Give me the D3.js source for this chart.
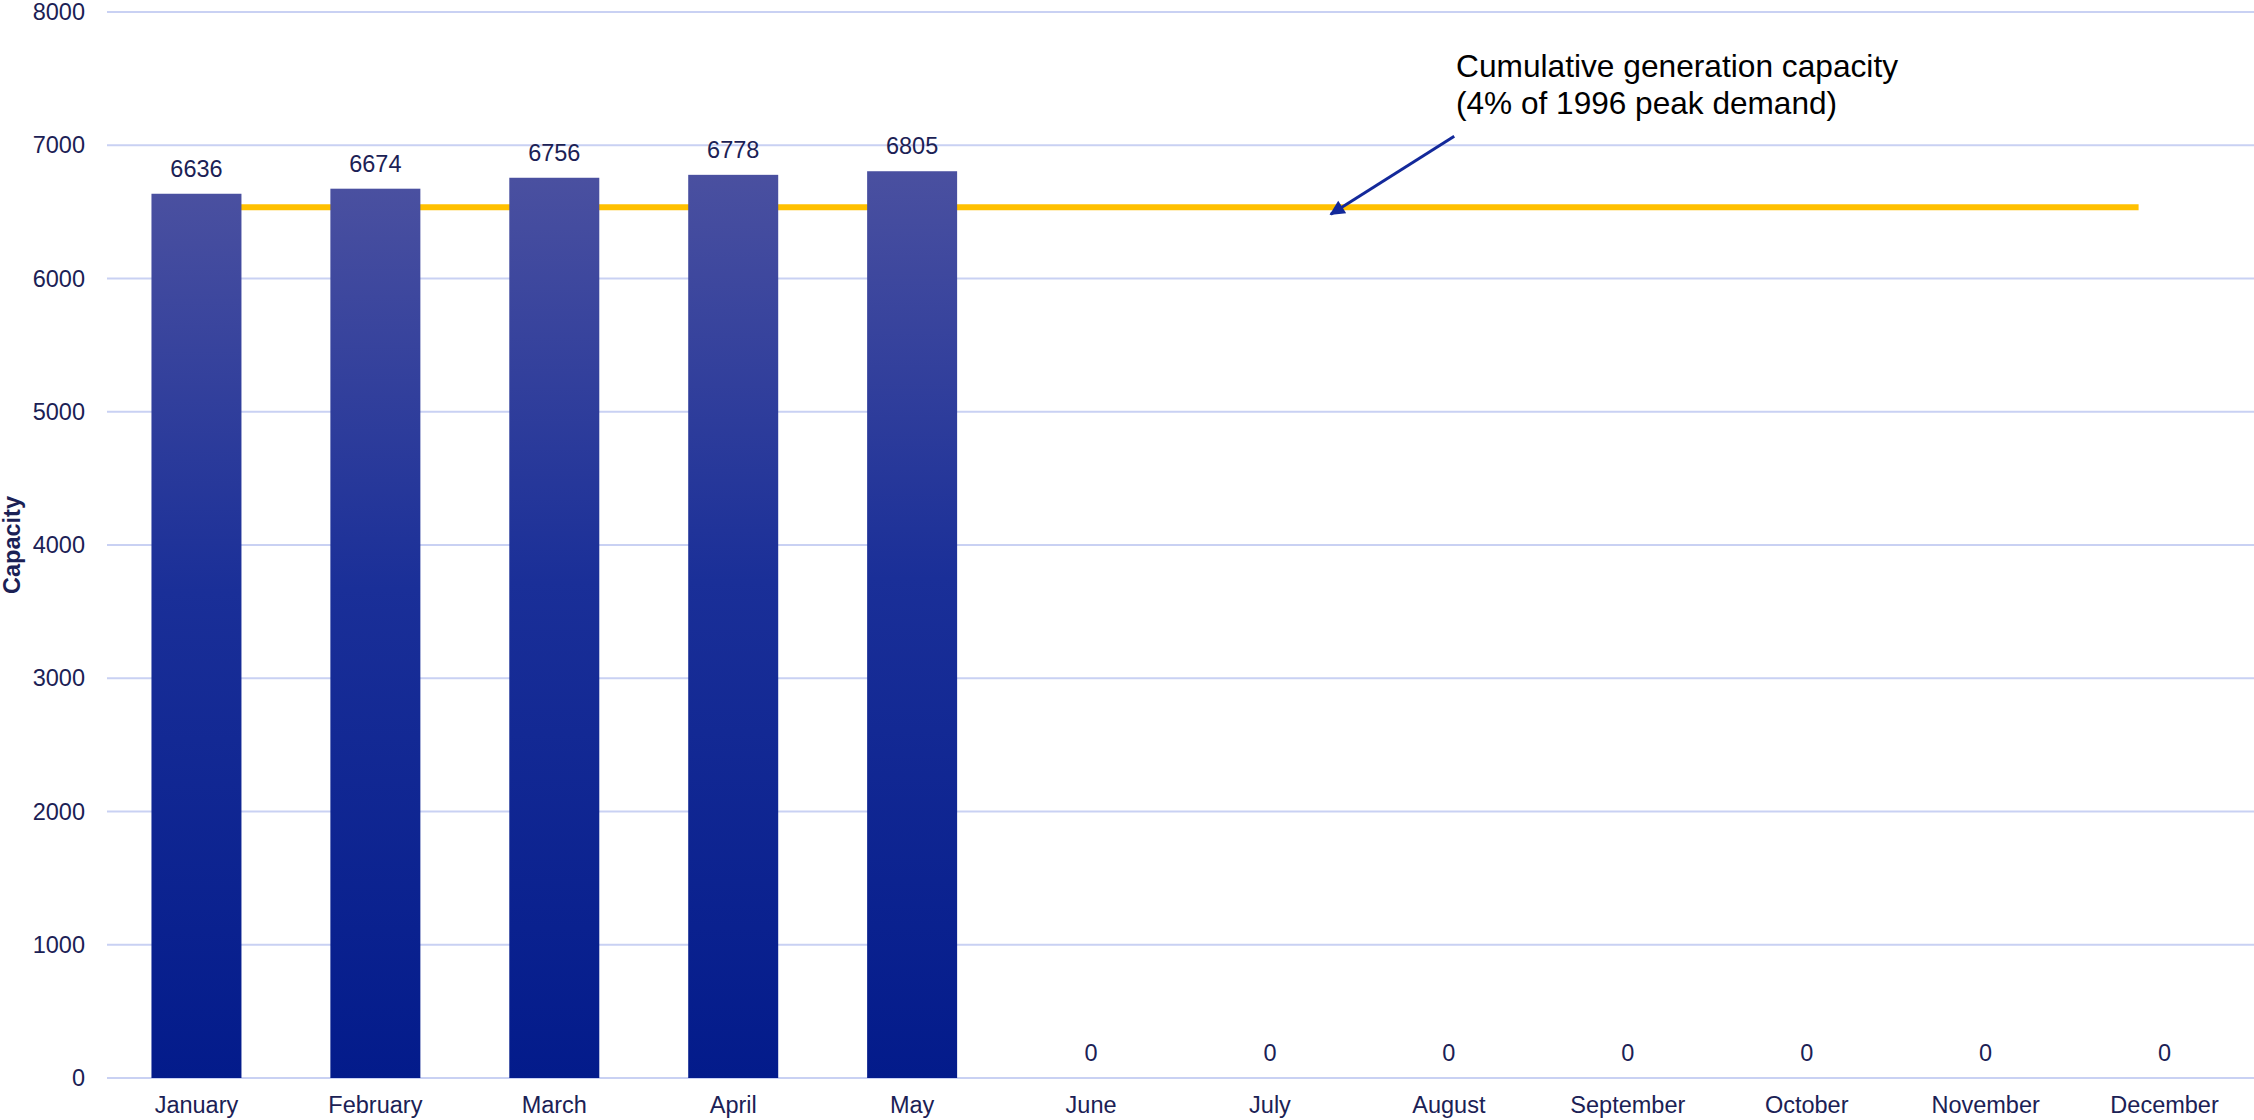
<!DOCTYPE html>
<html>
<head>
<meta charset="utf-8">
<script src="https://cdn.jsdelivr.net/npm/d3@7"></script>
<style>
  html, body { margin: 0; padding: 0; background: #ffffff; }
  svg { display: block; }
  text { font-family: "Liberation Sans", Arial, sans-serif; }
</style>
</head>
<body>
<svg id="chart" width="2254" height="1120"></svg>
<script>
// ---- Data ----
const months = ["January","February","March","April","May","June","July","August","September","October","November","December"];
const capacity = [6636, 6674, 6756, 6778, 6805, 0, 0, 0, 0, 0, 0, 0];
const yTicks = [0, 1000, 2000, 3000, 4000, 5000, 6000, 7000, 8000];
const targetValue = 6535;
const targetStart = "January";
const targetEnd = "December";
const annotationLines = ["Cumulative generation capacity", "(4% of 1996 peak demand)"];
const yTitle = "Capacity";

// ---- Layout ----
const W = 2254, H = 1120;
const margin = { top: 12, right: 0, bottom: 42, left: 107 };
const svg = d3.select("#chart");
const innerW = W - margin.left - margin.right;
const innerH = H - margin.top - margin.bottom;
const g = svg.append("g").attr("transform", `translate(${margin.left},${margin.top})`);

const x = d3.scaleBand().domain(months).range([0, innerW]).paddingInner(0.497).paddingOuter(0.2485);
const y = d3.scaleLinear().domain([0, 8000]).range([innerH, 0]);

const navy = "#1b2155";

// gradient
const defs = svg.append("defs");
const grad = defs.append("linearGradient").attr("id", "barGrad")
  .attr("x1", 0).attr("y1", 0).attr("x2", 0).attr("y2", 1);
grad.append("stop").attr("offset", "0%").attr("stop-color", "#4a50a0");
grad.append("stop").attr("offset", "45%").attr("stop-color", "#1a2f98");
grad.append("stop").attr("offset", "100%").attr("stop-color", "#031b8b");

const arrowMarker = defs.append("marker").attr("id", "arrowHead")
  .attr("viewBox", "0 0 10 10").attr("refX", 9).attr("refY", 5)
  .attr("markerWidth", 6).attr("markerHeight", 5).attr("orient", "auto")
  .attr("markerUnits", "strokeWidth");
arrowMarker.append("path").attr("d", "M0,0 L10,5 L0,10 Z").attr("fill", "#13299a");

// gridlines
g.append("g").selectAll("line").data(yTicks).join("line")
  .attr("x1", 0).attr("x2", innerW)
  .attr("y1", d => y(d)).attr("y2", d => y(d))
  .attr("stroke", "#c9d1f3").attr("stroke-width", 2);

// y axis labels
const yAxis = d3.axisLeft(y).tickValues(yTicks).tickSize(0).tickPadding(22).tickFormat(d3.format("d"));
const yg = g.append("g").call(yAxis);
yg.select(".domain").remove();
yg.selectAll("text").attr("fill", navy).style("font-size", "23.5px")
  .style("font-family", '"Liberation Sans", Arial, sans-serif');

// x axis labels
const xAxis = d3.axisBottom(x).tickSize(0).tickPadding(18);
const xg = g.append("g").attr("transform", `translate(0,${innerH})`).call(xAxis);
xg.select(".domain").remove();
xg.selectAll("text").attr("fill", navy).style("font-size", "23.5px")
  .style("font-family", '"Liberation Sans", Arial, sans-serif');

// target line (behind bars)
const step = x.step();
const lineX1 = x(targetStart) + x.bandwidth() / 2;
const lineX2 = x(targetEnd) + x.bandwidth() / 2 - 0.145 * step;
g.append("line")
  .attr("x1", lineX1).attr("x2", lineX2)
  .attr("y1", y(targetValue)).attr("y2", y(targetValue))
  .attr("stroke", "#ffc000").attr("stroke-width", 6);

// bars
g.append("g").selectAll("rect").data(months.map((m, i) => ({ m, v: capacity[i] }))).join("rect")
  .attr("x", d => x(d.m)).attr("width", x.bandwidth())
  .attr("y", d => y(d.v)).attr("height", d => innerH - y(d.v))
  .attr("fill", "url(#barGrad)");

// value labels
g.append("g").selectAll("text").data(months.map((m, i) => ({ m, v: capacity[i] }))).join("text")
  .attr("x", d => x(d.m) + x.bandwidth() / 2)
  .attr("y", d => y(d.v) - 17)
  .attr("text-anchor", "middle")
  .attr("fill", navy).style("font-size", "23.5px")
  .text(d => d.v);

// y title
svg.append("text")
  .attr("transform", `translate(20,${margin.top + innerH / 2}) rotate(-90)`)
  .attr("text-anchor", "middle")
  .attr("fill", navy).style("font-size", "23.5px").style("font-weight", "bold")
  .text(yTitle);

// annotation
const annX = x("August") + x.bandwidth() / 2 + 0.04 * step;
const ann = svg.append("text").attr("fill", "#000").style("font-size", "30.5px");
ann.append("tspan").attr("x", margin.left + annX).attr("y", 77)
  .attr("textLength", 442).attr("lengthAdjust", "spacingAndGlyphs").text(annotationLines[0]);
ann.append("tspan").attr("x", margin.left + annX).attr("y", 114)
  .attr("textLength", 381).attr("lengthAdjust", "spacingAndGlyphs").text(annotationLines[1]);

// arrow
const arrowStartX = x("August") + x.bandwidth() / 2 + 0.03 * step;
const arrowTipX = x("July") + x.bandwidth() / 2 + 0.34 * step;
g.append("line")
  .attr("x1", arrowStartX).attr("y1", y(targetValue) - 71)
  .attr("x2", arrowTipX).attr("y2", y(targetValue) + 7)
  .attr("stroke", "#13299a").attr("stroke-width", 3)
  .attr("marker-end", "url(#arrowHead)");
</script>
</body>
</html>
